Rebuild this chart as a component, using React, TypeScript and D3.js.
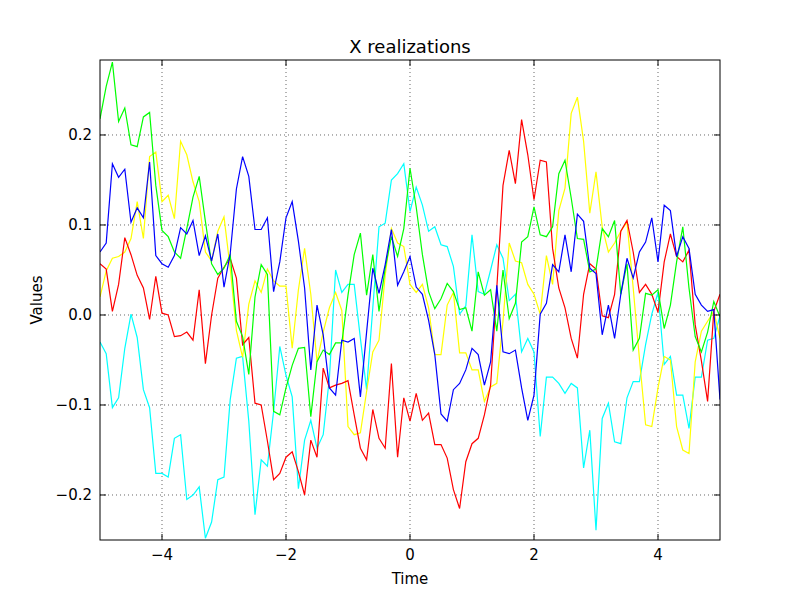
import { line, range, scaleLinear } from "d3";

const times = range(101).map((i) => -5 + i * 0.1);

const red = [
  0.057, 0.051, 0.004, 0.034, 0.086, 0.067, 0.044, 0.03, -0.005, 0.043, 0.002, 0.0, -0.024, -0.023, -0.019, -0.028, 0.028, -0.054, 0.0, 0.041, 0.053, 0.063, 0.041, -0.033, -0.025, -0.098,
  -0.1, -0.14, -0.183, -0.176, -0.158, -0.152, -0.174, -0.2, -0.139, -0.158, -0.059, -0.081, -0.078, -0.076, -0.073, -0.111, -0.148, -0.161, -0.105, -0.137, -0.148, -0.054, -0.158, -0.092, -0.118,
  -0.087, -0.117, -0.109, -0.144, -0.144, -0.159, -0.194, -0.215, -0.163, -0.143, -0.137, -0.111, -0.078, 0.03, 0.144, 0.183, 0.146, 0.217, 0.178, 0.128, 0.172, 0.17, 0.074, 0.03, 0.008,
  -0.026, -0.048, 0.023, 0.057, 0.051, -0.001, -0.003, 0.023, 0.093, 0.105, 0.07, 0.025, 0.034, 0.023, 0.003, 0.059, 0.09, 0.065, 0.059, 0.072, -0.011, -0.051, -0.096, 0.004, 0.023,
];

const green = [
  0.218, 0.254, 0.281, 0.215, 0.23, 0.189, 0.187, 0.22, 0.225, 0.144, 0.094, 0.087, 0.07, 0.063, 0.096, 0.131, 0.154, 0.104, 0.057, 0.045, 0.052, 0.067, -0.007, -0.024, -0.066, 0.02,
  0.056, 0.045, -0.107, -0.111, -0.081, -0.056, -0.037, -0.036, -0.113, -0.052, -0.039, -0.044, -0.031, -0.031, 0.022, 0.067, 0.091, 0.022, 0.067, 0.004, 0.052, 0.087, 0.065, 0.096, 0.163,
  0.12, 0.067, 0.026, 0.007, 0.018, 0.035, 0.026, 0.006, 0.008, -0.018, 0.048, 0.022, 0.028, -0.018, 0.05, -0.004, 0.013, 0.081, 0.087, 0.12, 0.089, 0.087, 0.098, 0.157, 0.172,
  0.13, 0.085, 0.084, 0.048, 0.051, 0.096, 0.087, 0.105, 0.023, 0.057, -0.039, -0.026, 0.024, 0.022, 0.028, -0.015, 0.011, 0.059, 0.098, 0.03, -0.024, -0.041, -0.019, 0.015, -0.002,
];

const yellow = [
  0.02, 0.049, 0.063, 0.065, 0.07, 0.085, 0.126, 0.085, 0.176, 0.181, 0.126, 0.133, 0.107, 0.193, 0.178, 0.148, 0.126, 0.07, 0.06, 0.093, 0.109, 0.052, -0.017, -0.047, 0.012, 0.038,
  0.025, 0.051, 0.038, 0.032, 0.032, -0.037, 0.028, 0.074, 0.023, -0.052, -0.019, 0.008, 0.025, 0.005, -0.124, -0.133, -0.131, -0.085, -0.041, -0.028, 0.044, 0.096, 0.08, 0.076, 0.034,
  0.025, 0.034, 0.008, -0.044, -0.044, 0.011, 0.025, -0.042, -0.042, -0.061, -0.061, -0.096, -0.08, -0.076, -0.007, 0.08, 0.06, 0.058, 0.034, 0.023, 0.001, 0.066, 0.034, 0.116, 0.141,
  0.224, 0.242, 0.193, 0.113, 0.159, 0.098, 0.07, 0.08, 0.093, 0.103, 0.03, -0.048, -0.122, -0.124, -0.081, -0.046, -0.05, -0.124, -0.15, -0.154, -0.052, -0.018, -0.007, 0.004, -0.026,
];

const cyan = [
  -0.03, -0.043, -0.103, -0.092, -0.037, 0.001, -0.025, -0.083, -0.103, -0.176, -0.176, -0.18, -0.137, -0.133, -0.205, -0.2, -0.191, -0.248, -0.23, -0.183, -0.18, -0.094, -0.048, -0.046, -0.118, -0.222,
  -0.161, -0.168, -0.107, -0.035, -0.067, -0.091, -0.193, -0.139, -0.117, -0.148, -0.133, -0.07, 0.05, 0.025, 0.034, 0.034, -0.026, -0.083, 0.008, 0.098, 0.102, 0.15, 0.157, 0.168, 0.115,
  0.142, 0.122, 0.093, 0.098, 0.078, 0.076, 0.054, 0.001, 0.01, 0.089, 0.026, 0.023, 0.05, 0.078, 0.063, 0.016, 0.023, -0.041, -0.026, -0.041, -0.135, -0.069, -0.069, -0.076, -0.087,
  -0.076, -0.081, -0.17, -0.128, -0.239, -0.115, -0.098, -0.141, -0.143, -0.092, -0.074, -0.074, -0.033, 0.001, 0.025, -0.055, -0.046, -0.089, -0.089, -0.126, -0.069, -0.069, -0.028, -0.026, -0.001,
];

const blue = [
  0.07, 0.08, 0.168, 0.153, 0.162, 0.103, 0.119, 0.108, 0.17, 0.066, 0.057, 0.053, 0.066, 0.097, 0.09, 0.105, 0.066, 0.088, 0.06, 0.09, 0.031, 0.068, 0.14, 0.176, 0.154, 0.095,
  0.095, 0.108, 0.026, 0.059, 0.108, 0.126, 0.082, 0.03, -0.061, 0.011, -0.022, -0.081, -0.089, -0.028, -0.03, -0.026, -0.091, -0.019, 0.052, 0.024, 0.056, 0.095, 0.033, 0.048, 0.065,
  0.031, 0.023, -0.006, -0.044, -0.11, -0.118, -0.083, -0.076, -0.061, -0.037, -0.044, -0.078, -0.052, 0.033, -0.041, -0.043, -0.039, -0.081, -0.117, -0.089, 0.001, 0.013, 0.056, 0.048, 0.089,
  0.048, 0.112, 0.104, 0.052, 0.046, -0.022, 0.011, -0.026, 0.023, 0.063, 0.041, 0.07, 0.081, 0.108, 0.059, 0.122, 0.116, 0.065, 0.087, 0.074, 0.023, 0.011, 0.004, 0.006, -0.094,
];

const series = [
  { name: "cyan", values: cyan, color: "#00ffff" },
  { name: "yellow", values: yellow, color: "#ffff00" },
  { name: "red", values: red, color: "#ff0000" },
  { name: "green", values: green, color: "#00ff00" },
  { name: "blue", values: blue, color: "#0000ff" },
];

const xTicks = [-4, -2, 0, 2, 4];
const yTicks = [-0.2, -0.1, 0.0, 0.1, 0.2];

const fmt = (v: number, digits: number) => v.toFixed(digits).replace("-", "\u2212");

export default function App() {
  const left = 100, right = 720, top = 60, bottom = 540;
  const x = scaleLinear().domain([-5, 5]).range([left, right]);
  const y = scaleLinear().domain([-0.25, 0.2833]).range([bottom, top]);
  const font = "DejaVu Sans, sans-serif";

  return (
    <div style={{ position: "absolute", left: 0, top: 0 }}>
      <svg width={800} height={600} style={{ display: "block", background: "#fff" }} fontFamily={font}>
        <defs>
          <clipPath id="plot">
            <rect x={left} y={top} width={right - left} height={bottom - top} />
          </clipPath>
        </defs>
        {xTicks.map((t) => (
          <line key={"gx" + t} x1={x(t)} x2={x(t)} y1={top} y2={bottom} stroke="#000" strokeWidth={0.6} strokeDasharray="1,3" />
        ))}
        {yTicks.map((t) => (
          <line key={"gy" + t} x1={left} x2={right} y1={y(t)} y2={y(t)} stroke="#000" strokeWidth={0.6} strokeDasharray="1,3" />
        ))}
        <g clipPath="url(#plot)">
          {series.map((s) => {
            const path = line<number>()
              .x((_, i) => x(times[i]))
              .y((d) => y(d))(s.values);
            return <path key={s.name} d={path ?? ""} fill="none" stroke={s.color} strokeWidth={1.2} />;
          })}
        </g>
        <rect x={left} y={top} width={right - left} height={bottom - top} fill="none" stroke="#000" strokeWidth={1} />
        {xTicks.map((t) => (
          <g key={"tx" + t}>
            <line x1={x(t)} x2={x(t)} y1={bottom} y2={bottom - 6} stroke="#000" />
            <line x1={x(t)} x2={x(t)} y1={top} y2={top + 6} stroke="#000" />
            <text x={x(t)} y={bottom + 20} textAnchor="middle" fontSize={15}>{fmt(t, 0)}</text>
          </g>
        ))}
        {yTicks.map((t) => (
          <g key={"ty" + t}>
            <line x1={left} x2={left + 6} y1={y(t)} y2={y(t)} stroke="#000" />
            <line x1={right} x2={right - 6} y1={y(t)} y2={y(t)} stroke="#000" />
            <text x={left - 8} y={y(t) + 5} textAnchor="end" fontSize={15}>{fmt(t, 1)}</text>
          </g>
        ))}
        <text x={410} y={53} textAnchor="middle" fontSize={18}>X realizations</text>
        <text x={410} y={584} textAnchor="middle" fontSize={15}>Time</text>
        <text transform="translate(42,300) rotate(-90)" textAnchor="middle" fontSize={15}>Values</text>
      </svg>
    </div>
  );
}
